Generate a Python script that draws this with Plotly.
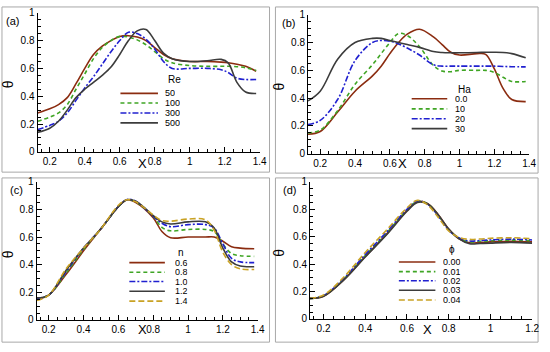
import plotly.graph_objects as go

W, H = 550, 352

# ---------------- data ----------------
X_A = [0.13, 0.2, 0.25, 0.3, 0.35, 0.4, 0.45, 0.5, 0.55, 0.6, 0.65, 0.7, 0.75, 0.8, 0.85, 0.9, 1.0, 1.1, 1.18, 1.22, 1.27, 1.32, 1.38]
RE_LABELS = ["50", "100", "300", "500"]
RE_50 = [0.28, 0.31, 0.34, 0.39, 0.49, 0.60, 0.70, 0.76, 0.80, 0.83, 0.835, 0.825, 0.80, 0.75, 0.70, 0.67, 0.65, 0.65, 0.645, 0.64, 0.63, 0.615, 0.58]
RE_100 = [0.22, 0.25, 0.28, 0.34, 0.45, 0.56, 0.67, 0.75, 0.80, 0.83, 0.825, 0.805, 0.77, 0.72, 0.67, 0.64, 0.62, 0.615, 0.615, 0.615, 0.612, 0.605, 0.585]
RE_300 = [0.16, 0.19, 0.22, 0.28, 0.37, 0.46, 0.54, 0.63, 0.72, 0.80, 0.86, 0.85, 0.81, 0.74, 0.65, 0.60, 0.60, 0.60, 0.59, 0.57, 0.53, 0.52, 0.52]
RE_500 = [0.14, 0.17, 0.22, 0.30, 0.39, 0.45, 0.50, 0.55, 0.61, 0.70, 0.80, 0.87, 0.88, 0.80, 0.71, 0.67, 0.65, 0.655, 0.665, 0.64, 0.50, 0.43, 0.42]

X_B = [0.13, 0.2, 0.3, 0.4, 0.5, 0.55, 0.6, 0.65, 0.7, 0.77, 0.85, 0.9, 0.95, 1.0, 1.1, 1.15, 1.2, 1.25, 1.3, 1.38]
HA_LABELS = ["0.0", "10", "20", "30"]
HA_0 = [0.14, 0.16, 0.30, 0.45, 0.56, 0.63, 0.72, 0.80, 0.86, 0.895, 0.84, 0.785, 0.73, 0.71, 0.72, 0.715, 0.61, 0.47, 0.39, 0.375]
HA_10 = [0.15, 0.17, 0.31, 0.50, 0.64, 0.72, 0.80, 0.865, 0.85, 0.77, 0.635, 0.595, 0.59, 0.60, 0.60, 0.60, 0.585, 0.55, 0.52, 0.52]
HA_20 = [0.21, 0.24, 0.39, 0.67, 0.80, 0.815, 0.81, 0.79, 0.76, 0.71, 0.64, 0.63, 0.63, 0.63, 0.63, 0.63, 0.63, 0.628, 0.626, 0.625]
HA_30 = [0.38, 0.45, 0.68, 0.80, 0.83, 0.83, 0.815, 0.80, 0.785, 0.765, 0.735, 0.728, 0.726, 0.726, 0.728, 0.73, 0.73, 0.728, 0.72, 0.69]

X_C = [0.13, 0.2, 0.3, 0.4, 0.5, 0.6, 0.65, 0.7, 0.8, 0.85, 0.9, 1.0, 1.1, 1.15, 1.2, 1.25, 1.3, 1.38]
N_LABELS = ["0.6", "0.8", "1.0", "1.2", "1.4"]
N_06 = [0.15, 0.18, 0.33, 0.50, 0.66, 0.82, 0.87, 0.85, 0.74, 0.64, 0.595, 0.60, 0.60, 0.60, 0.57, 0.53, 0.52, 0.515]
N_08 = [0.15, 0.18, 0.34, 0.51, 0.66, 0.82, 0.87, 0.855, 0.75, 0.67, 0.645, 0.655, 0.655, 0.64, 0.55, 0.48, 0.465, 0.46]
N_10 = [0.155, 0.18, 0.35, 0.52, 0.66, 0.82, 0.872, 0.86, 0.75, 0.70, 0.675, 0.69, 0.69, 0.665, 0.55, 0.445, 0.42, 0.415]
N_12 = [0.16, 0.18, 0.36, 0.52, 0.66, 0.82, 0.87, 0.86, 0.755, 0.71, 0.695, 0.71, 0.71, 0.665, 0.52, 0.42, 0.39, 0.385]
N_14 = [0.14, 0.18, 0.37, 0.52, 0.66, 0.83, 0.87, 0.855, 0.76, 0.72, 0.715, 0.73, 0.725, 0.65, 0.49, 0.40, 0.37, 0.365]

X_D = [0.135, 0.2, 0.3, 0.4, 0.5, 0.6, 0.65, 0.7, 0.75, 0.8, 0.85, 0.9, 0.95, 1.0, 1.1, 1.2]
PHI_LABELS = ["0.00", "0.01", "0.02", "0.03", "0.04"]
PHI_00 = [0.15, 0.165, 0.29, 0.455, 0.615, 0.79, 0.855, 0.84, 0.76, 0.655, 0.585, 0.555, 0.558, 0.562, 0.567, 0.562]
PHI_01 = [0.15, 0.168, 0.295, 0.462, 0.622, 0.795, 0.857, 0.838, 0.755, 0.652, 0.588, 0.562, 0.566, 0.57, 0.575, 0.57]
PHI_02 = [0.15, 0.17, 0.30, 0.47, 0.63, 0.80, 0.86, 0.835, 0.75, 0.648, 0.59, 0.568, 0.572, 0.576, 0.582, 0.576]
PHI_03 = [0.15, 0.166, 0.288, 0.452, 0.61, 0.785, 0.85, 0.838, 0.758, 0.656, 0.584, 0.548, 0.55, 0.553, 0.558, 0.553]
PHI_04 = [0.15, 0.175, 0.31, 0.485, 0.645, 0.81, 0.865, 0.83, 0.74, 0.642, 0.595, 0.58, 0.583, 0.588, 0.592, 0.585]

# ---------------- styles ----------------
BROWN = "#8B2C10"
GREEN = "#3FA524"
BLUE = "#2020D0"
GRAY = "#3C3C3C"
GOLD = "#C9A224"
D_GREEN = "4px,3px"
D_BLUE = "6px,2px,2px,2px"
D_GOLD = "6px,3px"
STY4 = [(BROWN, "solid"), (GREEN, D_GREEN), (BLUE, D_BLUE), (GRAY, "solid")]
STY5 = [(BROWN, "solid"), (GREEN, D_GREEN), (BLUE, D_BLUE), (GRAY, "solid"), (GOLD, D_GOLD)]
FONT = "Liberation Sans, Arial, sans-serif"
LW = 1.6

def fx(px):
    return px / W

def fy(py):
    return 1 - py / H

panels = [
    dict(k="", xd=(38, 263), yd=(7, 151), xr=[0.13, 1.4], x=X_A, ys=[RE_50, RE_100, RE_300, RE_500],
         labels=RE_LABELS, sty=STY4, title="Re", lab="(a)", labpos=(13, 16),
         leg=dict(x0=122, x1=160, tx=166, ty=[90.5, 100.5, 110.7, 121], title=(168, 76)),
         xt=(144, 163), th=(8, 81)),
    dict(k="2", xd=(312, 536), yd=(9, 153), xr=[0.13, 1.4], x=X_B, ys=[HA_0, HA_10, HA_20, HA_30],
         labels=HA_LABELS, sty=STY4, title="Ha", lab="(b)", labpos=(292, 18),
         leg=dict(x0=417, x1=453, tx=460, ty=[96, 106.5, 116.7, 127], title=(462, 86)),
         xt=(408, 163), th=(283, 83)),
    dict(k="3", xd=(37, 261), yd=(182, 325), xr=[0.13, 1.4], x=X_C, ys=[N_06, N_08, N_10, N_12, N_14],
         labels=N_LABELS, sty=STY5, title="n", lab="(c)", labpos=(17, 191),
         leg=dict(x0=131, x1=167, tx=176, ty=[265.7, 275.7, 285.3, 295.3, 305.5], title=(178, 255)),
         xt=(144, 335), th=(8, 257)),
    dict(k="4", xd=(314, 539), yd=(182, 324), xr=[0.135, 1.2], x=X_D, ys=[PHI_00, PHI_01, PHI_02, PHI_03, PHI_04],
         labels=PHI_LABELS, sty=STY5, title="\u03d5", lab="(d)", labpos=(293, 191),
         leg=dict(x0=404, x1=441, tx=448, ty=[265, 275, 284.5, 294.3, 304.3], title=(453, 252)),
         xt=(433, 335), th=(283, 255)),
]

fig = go.Figure()
shapes = []
annotations = []
layout = {}

axis_common = dict(
    showline=True, linecolor="black", linewidth=1, mirror=False,
    ticks="inside", ticklen=5, tickwidth=1, tickcolor="black",
    showgrid=False, zeroline=False,
    tickfont=dict(family=FONT, size=10, color="black"),
)

for p in panels:
    k = p["k"]
    for ys, lab, (col, dash) in zip(p["ys"], p["labels"], p["sty"]):
        fig.add_trace(go.Scatter(
            x=p["x"], y=ys, mode="lines", name=lab,
            line=dict(color=col, dash=dash, width=LW, shape="spline", smoothing=1.0),
            xaxis="x" + k, yaxis="y" + k, showlegend=False,
        ))
    layout["xaxis" + k] = dict(
        axis_common, domain=[fx(p["xd"][0]), fx(p["xd"][1])], range=p["xr"],
        anchor="y" + k, dtick=0.2, tick0=0,
        minor=dict(dtick=0.05, ticklen=3, ticks="inside", tickcolor="black"),
    )
    layout["yaxis" + k] = dict(
        axis_common, domain=[fy(p["yd"][1]), fy(p["yd"][0])], range=[0, 1],
        anchor="x" + k, dtick=0.2, tick0=0,
        minor=dict(dtick=0.05, ticklen=3, ticks="inside", tickcolor="black"),
    )
    lg = p["leg"]
    for ty, lab, (col, dash) in zip(lg["ty"], p["labels"], p["sty"]):
        shapes.append(dict(type="line", xref="paper", yref="paper",
                           x0=fx(lg["x0"]), x1=fx(lg["x1"]), y0=fy(ty), y1=fy(ty),
                           line=dict(color=col, dash=dash, width=LW)))
        annotations.append(dict(text=lab, xref="paper", yref="paper", x=fx(lg["tx"]), y=fy(ty),
                                xanchor="left", yanchor="middle", showarrow=False,
                                height=10, borderpad=0,
                                font=dict(family=FONT, size=9, color="black")))
    annotations.append(dict(text=p["title"], xref="paper", yref="paper",
                            x=fx(lg["title"][0]), y=fy(lg["title"][1]),
                            xanchor="left", yanchor="middle", showarrow=False,
                            font=dict(family=FONT, size=10, color="black")))
    annotations.append(dict(text=p["lab"], xref="paper", yref="paper",
                            x=fx(p["labpos"][0]), y=fy(p["labpos"][1]),
                            xanchor="center", yanchor="middle", showarrow=False,
                            font=dict(family=FONT, size=11, color="black")))
    annotations.append(dict(text="X", xref="paper", yref="paper",
                            x=fx(p["xt"][0]), y=fy(p["xt"][1]),
                            xanchor="center", yanchor="middle", showarrow=False,
                            font=dict(family=FONT, size=13, color="black")))
    annotations.append(dict(text="\u03b8", xref="paper", yref="paper", textangle=-90,
                            x=fx(p["th"][0]), y=fy(p["th"][1]),
                            xanchor="center", yanchor="middle", showarrow=False,
                            font=dict(family=FONT, size=14, color="black")))

for (x0, y0, x1, y1) in [(2, 1, 273, 172), (279, 1, 545, 173), (2, 178, 273, 348), (279, 178, 545, 348)]:
    shapes.append(dict(type="rect", xref="paper", yref="paper",
                       x0=fx(x0), x1=fx(x1), y0=fy(y1), y1=fy(y0),
                       line=dict(color="#A8A8A8", width=1), fillcolor="rgba(0,0,0,0)", layer="below"))

fig.update_layout(
    width=W, height=H, margin=dict(l=0, r=0, t=0, b=0),
    paper_bgcolor="white", plot_bgcolor="white",
    showlegend=False, shapes=shapes, annotations=annotations,
    font=dict(family=FONT),
    **layout,
)

fig.write_html("out.html", config={"displayModeBar": False},
               post_script="document.body.style.margin='0';document.body.style.padding='0';")
